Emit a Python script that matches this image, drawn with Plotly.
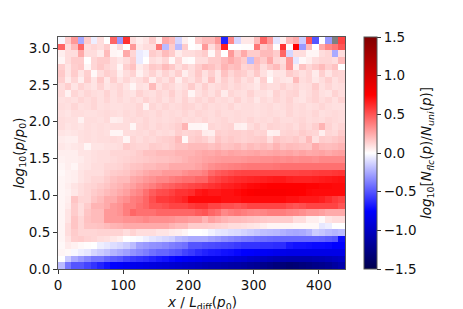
import plotly.graph_objects as go

row_00 = [-.2,-.4,-.5,-.5,-.55,-.6,-.65,-.7,-.75,-.77,-.8,
-.82,-.84,-.86,-.88,-.9,-.92,-.94,-.96,-.98,-1.0,-1.02,
-1.05,-1.07,-1.08,-1.1,-1.12,-1.13,-1.15,-1.18,-1.2,-1.24,-1.27,
-1.3,-1.32,-1.35,-1.33,-1.3,-1.28,-1.25,-1.23,-1.2,-1.15,-1.1]
row_01 = [0,-.15,-.25,-.3,-.35,-.4,-.4,-.45,-.48,-.5,-.55,
-.58,-.6,-.62,-.65,-.68,-.7,-.73,-.75,-.78,-.8,-.82,
-.85,-.86,-.87,-.88,-.9,-.93,-.95,-.98,-1.0,-1.03,-1.05,
-1.07,-1.09,-1.1,-1.1,-1.1,-1.1,-1.08,-1.07,-1.05,-1.02,-1.0]
row_02 = [.03,.02,-.02,-.05,-.07,-.12,-.15,-.18,-.22,-.25,-.28,
-.32,-.35,-.38,-.42,-.45,-.45,-.48,-.5,-.55,-.58,-.62,
-.65,-.67,-.68,-.7,-.71,-.73,-.75,-.76,-.78,-.79,-.8,
-.82,-.84,-.85,-.85,-.85,-.85,-.85,-.85,-.85,-.85,-.85]
row_03 = [.02,.06,.04,.02,.01,0,-.05,-.07,-.1,-.12,-.15,
-.2,-.28,-.3,-.32,-.33,-.35,-.38,-.4,-.42,-.5,-.5,
-.52,-.53,-.54,-.55,-.56,-.58,-.6,-.6,-.6,-.61,-.61,
-.62,-.62,-.68,-.7,-.7,-.71,-.72,-.72,-.73,-.75,-.75]
row_04 = [.03,.08,.14,.15,.13,.12,.1,.09,.07,.05,0,
-.01,-.02,-.05,-.08,-.1,-.12,-.14,-.2,-.22,-.25,-.25,
-.25,-.28,-.3,-.33,-.35,-.37,-.39,-.4,-.42,-.43,-.44,
-.45,-.45,-.45,-.45,-.45,-.45,-.45,-.46,-.48,-.5,-.72]
row_05 = [.03,.1,.15,.12,.12,.12,.13,.13,.13,.13,.1,
.13,.1,.1,.1,.08,.08,.06,.05,.03,0,0,
-.01,-.04,-.07,-.08,-.1,-.11,-.13,-.15,-.17,-.19,-.2,
-.21,-.23,-.25,-.26,-.25,-.22,-.15,-.17,-.2,-.22,-.2]
row_06 = [.03,.1,.17,.12,.17,.17,.18,.2,.22,.23,.25,
.25,.25,.25,.25,.25,.25,.22,.2,.2,.15,.15,
.15,.14,.13,.12,.1,.1,.09,.08,.07,.05,.03,
.03,.03,.03,.02,.02,.02,.02,-.07,-.05,0,0]
row_07 = [.03,.08,.17,.12,.18,.2,.2,.3,.3,.3,.32,
.32,.33,.35,.33,.33,.33,.32,.3,.3,.28,.28,
.22,.28,.25,.22,.2,.2,.19,.18,.17,.16,.15,
.15,.15,.15,.1,.1,.05,.05,.02,.08,.1,.1]
row_08 = [.03,.08,.15,.1,.17,.2,.2,.3,.3,.32,.38,
.45,.42,.42,.42,.45,.45,.45,.45,.45,.45,.48,
.5,.45,.42,.35,.38,.4,.38,.36,.35,.36,.38,
.38,.38,.36,.35,.33,.3,.3,.28,.25,.25,.25]
row_09 = [.03,.06,.15,.1,.15,.22,.22,.25,.3,.32,.38,
.38,.42,.45,.5,.5,.52,.55,.55,.55,.58,.6,
.6,.55,.55,.52,.52,.5,.52,.55,.55,.55,.55,
.55,.55,.52,.5,.52,.55,.55,.55,.55,.55,.5]
row_10 = [.03,.05,.17,.12,.12,.17,.2,.25,.25,.3,.33,
.38,.4,.45,.52,.58,.58,.6,.62,.65,.72,.72,
.72,.72,.72,.7,.7,.7,.72,.72,.72,.72,.72,
.72,.72,.7,.7,.68,.68,.68,.66,.62,.58,.55]
row_11 = [.03,.04,.07,.1,.12,.15,.17,.2,.22,.25,.28,
.33,.36,.42,.48,.52,.53,.56,.6,.6,.62,.68,
.7,.68,.68,.7,.7,.72,.74,.76,.78,.78,.78,
.78,.78,.77,.76,.75,.73,.72,.72,.72,.72,.72]
row_12 = [.03,.05,.08,.1,.12,.13,.15,.17,.2,.22,.25,
.28,.32,.35,.38,.42,.45,.47,.5,.52,.54,.56,
.58,.6,.62,.65,.66,.68,.7,.72,.73,.74,.75,
.75,.75,.75,.75,.75,.74,.74,.73,.73,.72,.72]
row_13 = [.03,.04,.05,.08,.1,.12,.12,.15,.18,.2,.2,
.25,.27,.3,.32,.35,.35,.38,.4,.42,.42,.45,
.45,.52,.55,.58,.6,.62,.63,.64,.65,.66,.67,
.68,.68,.66,.65,.65,.65,.66,.67,.68,.69,.7]
row_14 = [.02,.04,.05,.08,.1,.1,.1,.13,.15,.16,.17,
.2,.22,.25,.27,.27,.3,.3,.3,.33,.35,.35,
.38,.44,.48,.5,.52,.54,.55,.55,.55,.55,.55,
.55,.55,.55,.55,.56,.56,.57,.58,.58,.59,.6]
row_15 = [.03,.05,.03,.07,.08,.1,.1,.12,.12,.13,.15,
.17,.18,.2,.2,.22,.22,.25,.25,.25,.25,.27,
.3,.33,.35,.36,.37,.38,.39,.4,.4,.4,.4,
.41,.42,.42,.42,.42,.42,.42,.42,.42,.42,.42]
row_16 = [.04,.05,.05,.06,.08,.09,.1,.1,.11,.12,.13,
.14,.15,.16,.17,.18,.18,.19,.2,.22,.24,.25,
.27,.28,.29,.3,.3,.3,.31,.32,.32,.33,.33,
.34,.33,.34,.33,.34,.34,.33,.35,.35,.35,.35]
row_17 = [.05,.05,.05,.08,.08,.09,.1,.1,.12,.12,.12,
.13,.15,.18,.18,.2,.2,.2,.22,.22,.22,.24,
.26,.25,.27,.25,.27,.26,.25,.26,.27,.25,.26,
.27,.26,.27,.25,.27,.25,.26,.27,.25,.27,.28]
row_18 = [.07,.06,.07,.08,.03,.08,.08,.09,.09,.1,.15,
.13,.12,.12,.15,.14,.13,.15,.18,.18,.2,.2,
.2,.18,.2,.17,.18,.2,.17,.2,.18,.2,.18,
.22,.18,.2,.19,.18,.17,.24,.2,.19,.2,.22]
row_19 = [.06,.05,.05,.09,.1,.09,.1,.1,.11,.1,.03,
.12,.1,.12,.11,.13,.14,.15,.2,.02,.14,.16,
.14,.1,.17,.14,.16,.14,.13,.14,.15,.16,.1,
.17,.15,.14,.16,.13,.2,.09,.15,.14,.16,.18]
row_20 = [.08,.07,.08,.09,.1,.09,.1,.09,.03,.03,.1,
.1,.11,.1,.12,.1,.11,.1,.14,.12,.13,.14,
.06,.05,.14,.13,.14,.14,.13,.14,.12,.13,.04,
.05,.12,.13,.12,.15,.13,.12,.05,.12,.11,.15]
row_21 = [.1,.08,.09,.08,.1,.09,.1,.09,.1,.1,.1,
.03,.11,.12,.1,.12,.11,.12,.14,.22,.03,.03,
.02,.12,.11,.12,.13,.05,.04,.1,.13,.1,.13,
.12,.11,.12,.1,.13,.11,.14,.22,.13,.1,.12]
row_22 = [.1,.09,.09,.04,.1,.1,.09,.11,.05,.06,.1,
.11,.1,.12,.1,.11,.1,.11,.12,.1,.11,.1,
.12,.1,.11,.12,.1,.11,.1,.12,.1,.11,.1,
.12,.1,.1,.11,.12,.1,.11,.1,.12,.11,.1]
row_23 = [.09,.08,.1,.1,.09,.09,.1,.11,.1,.09,.11,
.1,.12,.11,.1,.12,.1,.11,.1,.12,.1,.12,
.11,.1,.12,.1,.1,.11,.1,.1,.09,.1,.11,
.1,.09,.12,.1,.11,.1,.12,.09,.1,.11,.1]
row_24 = [.1,.09,.12,.09,.1,.12,.09,.1,.09,.09,.1,
.1,.12,.04,.12,.1,.12,.1,.11,.13,.12,.1,
.12,.1,.11,.1,.12,.09,.1,.1,.09,.1,.11,
.09,.1,.12,.1,.11,.09,.1,.12,.1,.09,.09]
row_25 = [.09,.1,.09,.12,.1,.12,.09,.12,.09,.11,.09,
.11,.09,.13,.1,.12,.09,.12,.09,.13,.09,.12,
.1,.13,.1,.11,.09,.13,.09,.11,.07,.11,.09,
.12,.1,.13,.09,.08,.11,.13,.1,.12,.09,.13]
row_26 = [.11,.04,.12,.09,.12,.1,.09,.13,.09,.12,.09,
.08,.13,.1,.09,.12,.1,.14,.09,.12,.03,.09,
.12,.09,.13,.06,.12,.1,.09,.13,.09,.09,.07,
.13,.1,.12,.13,.08,.1,.13,.09,.08,.13,.1]
row_27 = [.1,.14,.08,.13,.1,.08,.13,.08,.1,.12,.08,
.03,.09,.08,.2,.09,.13,.11,.08,.1,.15,.09,
.14,.09,.11,.13,.1,.12,.1,.09,.07,.12,.1,
.1,.13,.1,.12,.09,.1,.15,.09,.12,.09,.1]
row_28 = [.14,.06,.12,.05,.15,.08,.16,.07,.14,.08,.12,
.08,.1,.14,.05,.12,.09,.14,.05,.12,.09,.14,
.08,.18,.08,.14,.1,.14,.09,.12,.06,.14,.01,
.1,.08,.07,.2,.1,.12,.07,.1,.14,.09,.12]
row_29 = [.16,.08,.15,.08,.14,.02,.1,.14,.12,.05,.1,
.13,.04,.09,.13,.08,.13,.09,.14,.05,.1,.16,
.09,.14,.08,.18,.12,.16,.14,.1,.16,.09,.04,
.08,.08,.15,.12,.09,.12,.06,.14,.08,.13,.12]
row_30 = [.14,.08,.14,.16,.03,.12,.16,.12,.1,.03,.14,
.18,.06,.1,.16,.14,.2,.16,.1,.14,.1,.15,
.2,.18,.14,.22,.18,.2,.12,.14,.18,.1,.16,
.2,.12,.3,.05,.18,.12,.16,.2,.14,.18,0]
row_31 = [.03,.1,.15,.15,0,.12,.15,.15,.1,.07,.1,
.15,-.06,0,.1,.08,.12,.02,.12,.02,.01,.1,
.1,.15,.15,.2,.25,.2,.15,-.2,.2,.15,.25,
.12,.1,.3,-.07,.02,.05,.1,.12,.12,.1,.2]
row_32 = [.05,.1,.1,.25,.1,.1,.06,.2,.03,.02,.25,
.12,-.06,-.03,.15,.12,.2,.15,.06,.1,.1,.12,
.15,.02,.15,0,.3,.15,.25,.15,.15,.2,.2,
.15,.45,-.12,.1,.1,.03,.03,.1,.12,-.25,.1]
row_33 = [.45,.1,.2,.45,.1,.12,.1,.15,.03,.1,0,
.3,.07,.1,.1,.4,-.2,.15,-.2,.15,0,.02,
.3,.1,.2,.65,0,0,.01,.01,.4,.15,.2,
.01,.6,.01,.75,-.3,.2,0,.25,.35,.4,.5]
row_34 = [-.02,.15,.3,-.25,.15,-.05,.1,0,.45,-.3,.6,
.1,.05,.08,.15,.04,.25,.2,-.12,.05,0,.15,
.2,.2,.3,-.65,.35,-.12,.07,.07,.2,.45,.3,
-.08,.05,.2,.25,-.15,.5,-.5,0,-.3,None,.55]

z_rows = [row_00,row_01,row_02,row_03,row_04,row_05,row_06,row_07,row_08,row_09,
          row_10,row_11,row_12,row_13,row_14,row_15,row_16,row_17,row_18,row_19,
          row_20,row_21,row_22,row_23,row_24,row_25,row_26,row_27,row_28,row_29,
          row_30,row_31,row_32,row_33,row_34]
for i, r in enumerate(z_rows):
    assert len(r) == 44, (i, len(r))

x_ticks = [0, 100, 200, 300, 400]
y_ticks = [0, 0.5, 1, 1.5, 2, 2.5, 3]
cbar_ticks = [-1.5, -1, -0.5, 0, 0.5, 1, 1.5]
cbar_labels = ["\u22121.5", "\u22121.0", "\u22120.5", "0.0", "0.5", "1.0", "1.5"]
seismic = [[0, "rgb(0,0,77)"], [0.25, "rgb(0,0,255)"], [0.5, "rgb(255,255,255)"],
           [0.75, "rgb(255,0,0)"], [1, "rgb(128,0,0)"]]

FONT = "DejaVu Sans"
FS = 13.5
FRAME = "#555555"

fig = go.Figure(go.Heatmap(
    z=z_rows, x0=5, dx=10, y0=0.045, dy=0.09,
    zmin=-1.5, zmax=1.5, colorscale=seismic, xgap=0, ygap=0,
    hoverongaps=False,
    colorbar=dict(
        x=1.065, xanchor="left", xpad=0, y=0.5, yanchor="middle", ypad=0, len=1,
        thickness=12.5, outlinecolor=FRAME, outlinewidth=1,
        tickmode="array", tickvals=cbar_ticks, ticktext=cbar_labels,
        ticks="outside", ticklen=4, tickwidth=1, tickcolor="#333333",
        tickfont=dict(family=FONT, size=FS, color="#111111"),
        title=dict(
            text="<i>log</i><sub>10</sub>[<i>N</i><sub><i>flc</i></sub>(<i>p</i>)/<i>N</i><sub><i>uni</i></sub>(<i>p</i>)]",
            side="right", font=dict(family=FONT, size=FS, color="#111111")),
    ),
))
# The page adds an 8 px body margin, so the figure sits 8 px in from the window corner.
fig.update_layout(
    width=455, height=301, autosize=False,
    margin=dict(l=49.7, r=463 - 345.5, t=28.5, b=309 - 269.5, pad=0),
    paper_bgcolor="white", plot_bgcolor="rgb(128,128,128)",
    font=dict(family=FONT, size=FS, color="#111111"),
    annotations=[dict(
        text="<i>x</i> / <i>L</i><sub>diff</sub>(<i>p</i><sub>0</sub>)",
        xref="paper", yref="paper", x=0.5, y=0, xanchor="center", yanchor="top",
        yshift=-23, showarrow=False, font=dict(family=FONT, size=FS, color="#111111"),
    )],
)
fig.update_xaxes(
    automargin=False,
    range=[0, 440], tickmode="array", tickvals=x_ticks, ticks="outside", ticklen=4,
    tickwidth=1, tickcolor="#333333", showgrid=False, zeroline=False,
    showline=True, linecolor=FRAME, linewidth=1, mirror=True,
)
fig.update_yaxes(
    automargin=False,
    range=[0, 3.15], tickmode="array", tickvals=y_ticks, ticktext=["0.0","0.5","1.0","1.5","2.0","2.5","3.0"],
    ticks="outside", ticklen=4, tickwidth=1, tickcolor="#333333", showgrid=False, zeroline=False,
    showline=True, linecolor=FRAME, linewidth=1, mirror=True,
    title=dict(text="<i>log</i><sub>10</sub>(<i>p</i>/<i>p</i><sub>0</sub>)", standoff=1,
               font=dict(family=FONT, size=FS, color="#111111")),
)
fig.write_html("out.html")
